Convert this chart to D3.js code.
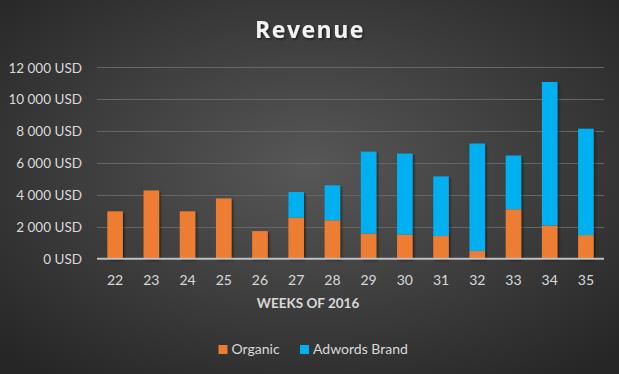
<!DOCTYPE html>
<html><head><meta charset="utf-8">
<script src="https://cdn.jsdelivr.net/npm/d3@7"></script>
<style>html,body{margin:0;padding:0;background:#333;}svg{display:block;}</style>
</head><body>
<script>
const weeks = ["22","23","24","25","26","27","28","29","30","31","32","33","34","35"];
const organic = [2970, 4280, 2970, 3780, 1730, 2580, 2410, 1580, 1520, 1420, 480, 3100, 2080, 1480];
const adwords = [0, 0, 0, 0, 0, 1600, 2190, 5130, 5070, 3740, 6740, 3370, 9000, 6670];
const yTicks = [0, 2000, 4000, 6000, 8000, 10000, 12000];
const seriesNames = ["Organic", "Adwords Brand"];
const colors = ["#ED7D31", "#00B0F0"];

const W = 619, H = 374;
const FONT = "Lato, 'Open Sans', sans-serif";
const svg = d3.select("body").append("svg").attr("width", W).attr("height", H);
const defs = svg.append("defs");
const rg = defs.append("radialGradient").attr("id", "bg").attr("cx", "50%").attr("cy", "45%").attr("r", "70%");
rg.append("stop").attr("offset", "0%").attr("stop-color", "#575757");
rg.append("stop").attr("offset", "100%").attr("stop-color", "#262626");
const sh = defs.append("filter").attr("id", "sh").attr("x", "-20%").attr("y", "-20%").attr("width", "150%").attr("height", "150%");
sh.append("feDropShadow").attr("dx", 1.5).attr("dy", 1.5).attr("stdDeviation", 1.2).attr("flood-color", "#000").attr("flood-opacity", 0.5);

svg.append("rect").attr("width", W).attr("height", H).attr("fill", "url(#bg)");

const m = {l: 97, r: 15, t: 67.3, b: 115.3};
const x = d3.scaleBand().domain(weeks).range([m.l, W - m.r]).paddingInner(0.57).paddingOuter(0.285);
const y = d3.scaleLinear().domain([0, 12000]).range([H - m.b, m.t]);

// gridlines
svg.append("g").selectAll("line").data(yTicks.filter(d => d > 0)).join("line")
  .attr("x1", m.l).attr("x2", W - m.r)
  .attr("y1", d => Math.round(y(d)) + 0.5).attr("y2", d => Math.round(y(d)) + 0.5)
  .attr("stroke", "#666").attr("stroke-width", 1);

// y axis labels
const yAxis = d3.axisLeft(y).tickValues(yTicks).tickSize(0).tickPadding(0)
  .tickFormat(d => d3.format(",")(d).replace(/,/g, " ") + " USD");
const gy = svg.append("g").attr("transform", `translate(82,0)`).call(yAxis);
gy.select(".domain").remove();
gy.selectAll("text").attr("fill", "#d9d9d9").style("font-family", FONT).style("font-size", "13.5px").attr("dy", "0.35em");

// stacked bars
const data = weeks.map((w, i) => ({week: w, organic: organic[i], adwords: adwords[i]}));
const stack = d3.stack().keys(["organic", "adwords"])(data);
svg.append("g").attr("filter", "url(#sh)").selectAll("g").data(stack).join("g")
  .attr("fill", (d, i) => colors[i])
  .selectAll("rect").data(d => d.filter(p => p[1] - p[0] > 0)).join("rect")
  .attr("x", d => x(d.data.week)).attr("width", x.bandwidth())
  .attr("y", d => y(d[1])).attr("height", d => y(d[0]) - y(d[1]));

// x axis line
svg.append("line").attr("x1", m.l).attr("x2", W - m.r)
  .attr("y1", y(0)).attr("y2", y(0)).attr("stroke", "#bfbfbf").attr("stroke-width", 2);

const xAxis = d3.axisBottom(x).tickSize(0).tickPadding(0);
const gx = svg.append("g").attr("transform", `translate(0,${y(0)})`).call(xAxis);
gx.select(".domain").remove();
gx.selectAll("text").attr("fill", "#d9d9d9").attr("y", 26).attr("dy", null).style("font-family", FONT).style("font-size", "14px");

// axis title
svg.append("text").attr("x", 308).attr("y", 308).attr("text-anchor", "middle")
  .attr("fill", "#d9d9d9").style("font-family", FONT).style("font-size", "13.5px").style("font-weight", "bold")
  .text("WEEKS OF 2016");

// title
svg.append("text").attr("x", 310).attr("y", 38).attr("text-anchor", "middle")
  .attr("fill", "#f2f2f2").attr("filter", "url(#sh)").style("font-family", "'Open Sans', sans-serif").style("font-size", "23px").style("font-weight", "bold")
  .style("letter-spacing", "1.5px")
  .text("Revenue");

// legend
const legX = [218.5, 300];
const leg = svg.append("g");
seriesNames.forEach((n, i) => {
  leg.append("rect").attr("x", legX[i]).attr("y", 345).attr("width", 9).attr("height", 9).attr("fill", colors[i]);
  leg.append("text").attr("x", legX[i] + 13).attr("y", 354)
    .attr("fill", "#d9d9d9").style("font-family", FONT).style("font-size", "14px").text(n);
});
</script>
</body></html>
